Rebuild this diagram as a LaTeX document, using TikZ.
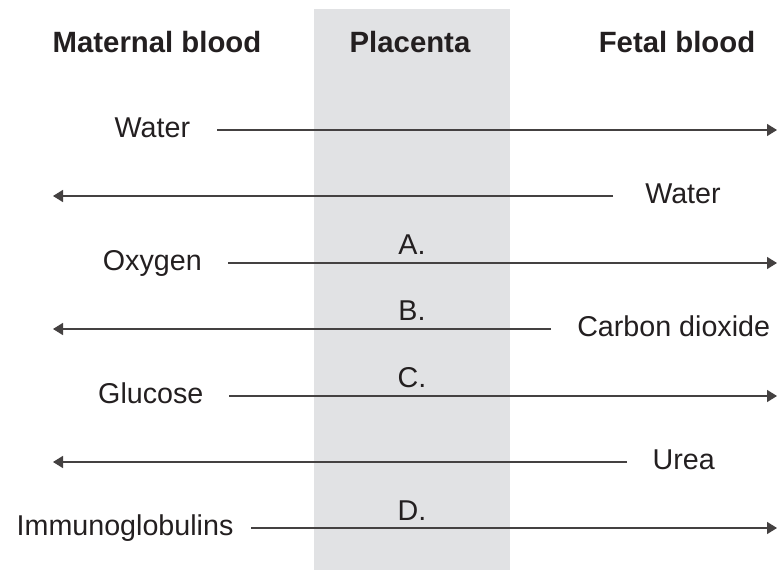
\documentclass[tikz,border=0pt]{standalone}
\usepackage{fontspec}
\setmainfont{Liberation Sans}
\usetikzlibrary{arrows.meta,positioning}
\definecolor{band}{HTML}{E1E2E4}
\definecolor{ink}{HTML}{231F20}
\tikzset{
  heading/.style={anchor=base, inner sep=0pt, text=ink,
    font=\fontsize{22}{26}\selectfont\bfseries},
  substance/.style={inner sep=0pt, text=ink, text height=15.7pt, text depth=4.8pt,
    font=\fontsize{21.5}{26}\selectfont},
  letter/.style={anchor=base, inner sep=0pt, text=ink,
    font=\fontsize{21.5}{26}\selectfont},
  flow/.style={draw=ink!85, line width=1.1pt, -{Triangle[length=7.5pt,width=9pt]}}
}

\begin{document}
\begin{tikzpicture}[x=0.75pt,y=-0.75pt]
  \useasboundingbox (0,0) rectangle (779,570);
  % placenta band
  \fill[band] (314,9) rectangle (510,570);

  % column headings
  \node[heading] (maternal) at (157,53) {Maternal blood};
  \node[heading] (placenta) at (410,53) {Placenta};
  \node[heading] (fetal) at (677,53) {Fetal blood};

  % ends of the arrows
  \coordinate (s1) at (217,130); \coordinate (t1) at (777,130);
  \coordinate (s2) at (613,196); \coordinate (t2) at (53,196);
  \coordinate (s3) at (228,263); \coordinate (t3) at (777,263);
  \coordinate (s4) at (551,329); \coordinate (t4) at (53,329);
  \coordinate (s5) at (229,396); \coordinate (t5) at (777,396);
  \coordinate (s6) at (627,462); \coordinate (t6) at (53,462);
  \coordinate (s7) at (251,528); \coordinate (t7) at (777,528);

  % substances
  \node[substance, left=20pt of s1] (water1) {Water};
  \node[substance, right=24pt of s2] (water2) {Water};
  \node[substance, left=19.5pt of s3] (oxygen) {Oxygen};
  \node[substance, right=19.5pt of s4] (co2) {Carbon dioxide};
  \node[substance, left=19pt of s5] (glucose) {Glucose};
  \node[substance, right=19pt of s6] (urea) {Urea};
  \node[substance, left=13pt of s7] (immuno) {Immunoglobulins};

  % blanks
  \node[letter] (gapA) at (412,255) {A.};
  \node[letter] (gapB) at (412,321) {B.};
  \node[letter] (gapC) at (412,388) {C.};
  \node[letter] (gapD) at (412,520) {D.};

  \draw[flow] (s1) -- (t1);
  \draw[flow] (s2) -- (t2);
  \draw[flow] (s3) -- (t3);
  \draw[flow] (s4) -- (t4);
  \draw[flow] (s5) -- (t5);
  \draw[flow] (s6) -- (t6);
  \draw[flow] (s7) -- (t7);
\end{tikzpicture}
\end{document}
